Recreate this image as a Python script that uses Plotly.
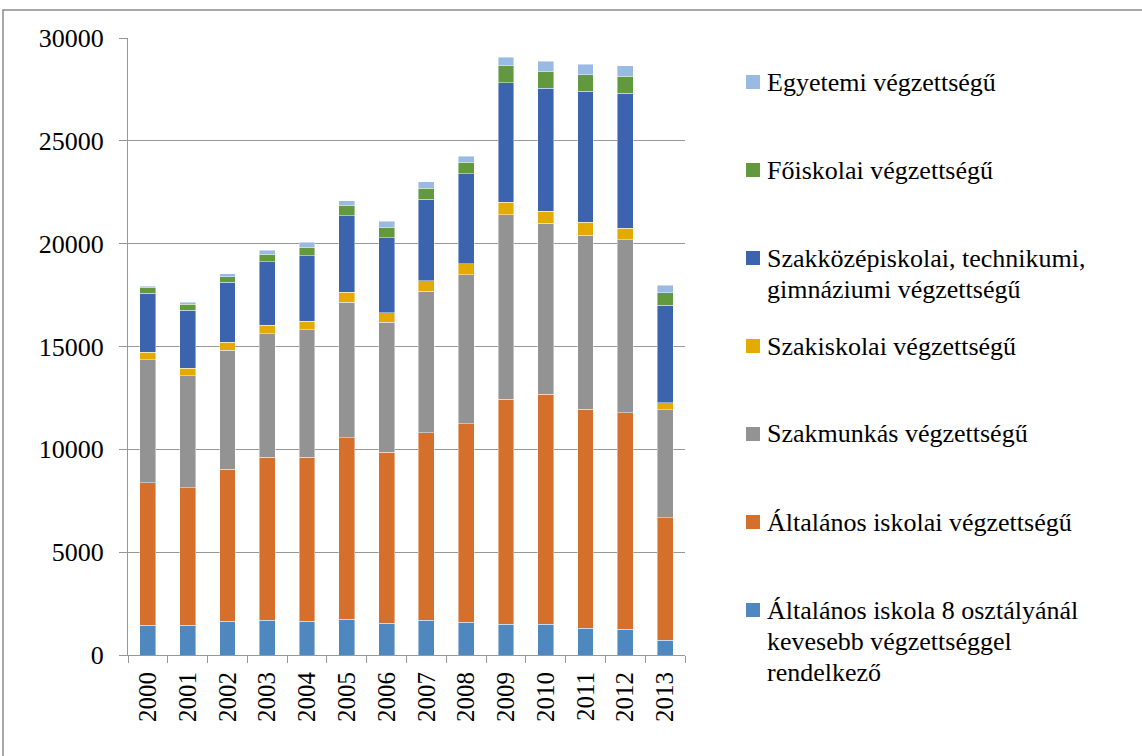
import plotly.graph_objects as go

years = ["2000", "2001", "2002", "2003", "2004", "2005", "2006",
         "2007", "2008", "2009", "2010", "2011", "2012", "2013"]

# series, bottom to top
kevesebb_8 = [1450, 1435, 1635, 1685, 1635, 1735, 1535, 1685, 1585, 1500, 1500, 1305, 1255, 710]
altalanos = [6930, 6700, 7405, 7920, 7970, 8825, 8315, 9125, 9670, 10925, 11190, 10640, 10525, 5955]
szakmunkas = [5970, 5445, 5775, 6005, 6220, 6600, 6320, 6880, 7225, 8990, 8315, 8465, 8400, 5265]
szakiskolai = [380, 365, 395, 415, 410, 480, 480, 510, 545, 590, 560, 630, 580, 345]
szakkozep = [2850, 2820, 2905, 3100, 3170, 3710, 3645, 3960, 4370, 5830, 5985, 6360, 6560, 4720]
foiskolai = [265, 280, 265, 365, 430, 495, 480, 530, 560, 810, 805, 805, 830, 610]
egyetemi = [85, 115, 150, 180, 230, 250, 315, 330, 300, 410, 505, 520, 500, 380]

series_names = [
    "Általános iskola 8 osztályánál\nkevesebb végzettséggel\nrendelkező",
    "Általános iskolai végzettségű",
    "Szakmunkás végzettségű",
    "Szakiskolai végzettségű",
    "Szakközépiskolai, technikumi,\ngimnáziumi végzettségű",
    "Főiskolai végzettségű",
    "Egyetemi végzettségű",
]
series_values = [kevesebb_8, altalanos, szakmunkas, szakiskolai, szakkozep, foiskolai, egyetemi]
colors = ["#4F88BE", "#D4702B", "#939393", "#E3AA00", "#3C64AE", "#62993F", "#99BAE2"]

FONT = "Liberation Serif, Times New Roman, serif"
W, H = 1142, 756
PL, PR, PT, PB = 128, 685, 38, 655  # plot area in pixels
GRID = "#989898"

fig = go.Figure()
for name, vals, col in zip(series_names, series_values, colors):
    fig.add_trace(go.Bar(
        x=years, y=vals, name=name.replace("\n", " "),
        marker=dict(color=col, line=dict(color="rgba(255,255,255,0.55)", width=0.8)),
        showlegend=False,
    ))

def px_x(px):
    return (px - PL) / (PR - PL)

def px_y(py):
    return (PB - py) / (PB - PT)

shapes = []
annotations = []

# outer chart border
shapes.append(dict(type="rect", xref="paper", yref="paper",
                   x0=px_x(3), x1=px_x(1150), y0=px_y(10), y1=px_y(800),
                   line=dict(color="#8C8C8C", width=1.5), fillcolor="rgba(0,0,0,0)",
                   layer="below"))

# manual legend (top item = last series), fixed slot spacing as in reference
legend_order = list(range(len(series_names)))[::-1]
slot_top = 82
slot_step = 88
line_step = 31
for i, idx in enumerate(legend_order):
    cy = slot_top + slot_step * i
    shapes.append(dict(type="rect", xref="paper", yref="paper",
                       x0=px_x(746), x1=px_x(760), y0=px_y(cy - 7), y1=px_y(cy + 7),
                       fillcolor=colors[idx], line=dict(width=0)))
    for j, line in enumerate(series_names[idx].split("\n")):
        ly = cy + line_step * j
        annotations.append(dict(xref="paper", yref="paper", x=px_x(765), y=px_y(ly),
                                xanchor="left", yanchor="middle", text=line,
                                showarrow=False, align="left",
                                font=dict(family=FONT, size=26, color="black")))

fig.update_layout(
    barmode="stack",
    bargap=0.6,
    width=W, height=H,
    margin=dict(l=PL, r=W - PR, t=PT, b=H - PB, pad=0),
    plot_bgcolor="white", paper_bgcolor="white",
    font=dict(family=FONT, color="black"),
    shapes=shapes,
    annotations=annotations,
    xaxis=dict(type="category", showline=True, linecolor=GRID, linewidth=1,
               ticks="outside", tickson="boundaries", ticklen=7, tickcolor=GRID,
               tickangle=-90, tickfont=dict(family=FONT, size=25, color="black"),
               showgrid=False, ticklabelstandoff=6),
    yaxis=dict(range=[0, 30000], dtick=5000, tickformat="d", showgrid=True,
               gridcolor=GRID, gridwidth=1, showline=True, linecolor=GRID, linewidth=1,
               ticks="outside", ticklen=8, tickcolor=GRID, zeroline=False,
               tickfont=dict(family=FONT, size=26, color="black"),
               ticklabelstandoff=10),
)

fig.write_html("out.html", config={"displayModeBar": False},
               post_script="document.body.style.margin='0';")
